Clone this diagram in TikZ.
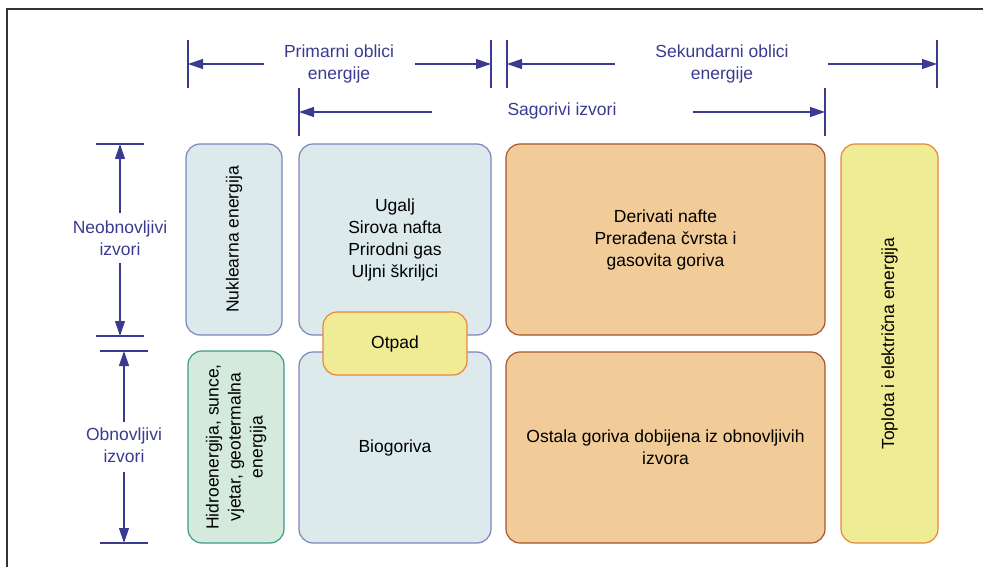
\documentclass[tikz,border=0pt]{standalone}
\usepackage{fontspec}
\setmainfont{Liberation Sans}
\usetikzlibrary{arrows.meta}
\definecolor{navy}{RGB}{58,58,145}
\definecolor{bfill}{RGB}{220,234,236}
\definecolor{bdraw}{RGB}{126,130,190}
\definecolor{gfill}{RGB}{212,234,220}
\definecolor{gdraw}{RGB}{58,155,134}
\definecolor{ofill}{RGB}{242,204,152}
\definecolor{odraw}{RGB}{168,85,47}
\definecolor{yfill}{RGB}{240,235,149}
\definecolor{ydraw}{RGB}{232,135,63}
\definecolor{frame}{RGB}{50,50,50}
\begin{document}
\begin{tikzpicture}[x=1pt,y=-1pt,
  box/.style={line width=1.2pt, rounded corners=14pt, inner sep=0pt, align=center,
    font=\fontsize{17.5}{22}\selectfont, text=black},
  bluebox/.style={box, fill=bfill, draw=bdraw},
  greenbox/.style={box, fill=gfill, draw=gdraw},
  orangebox/.style={box, fill=ofill, draw=odraw},
  yellowbox/.style={box, fill=yfill, draw=ydraw},
  lab/.style={text=navy, align=center, inner sep=0pt, font=\fontsize{17.5}{22}\selectfont},
  tick/.style={draw=navy, line width=1.2pt},
  dimarrow/.style={draw=navy, line width=1.2pt, -{Triangle[length=15pt,width=10pt]}}]
\useasboundingbox (0,0) rectangle (983,567);
% frame
\draw[frame, line width=1.2pt] (7,567) -- (7,9) -- (983,9);

% boxes
\node[bluebox, rotate=90, minimum width=191, minimum height=96] (nuk) at (234,239.5) {Nuklearna energija};
\node[greenbox, rotate=90, minimum width=192, minimum height=96] (hid) at (236,447)
  {Hidroenergija, sunce,\\vjetar, geotermalna\\energija};
\node[bluebox, minimum width=192, minimum height=191] (fos) at (395,239.5)
  {\fontsize{17.5}{19.5}\selectfont Ugalj\\Sirova nafta\\Prirodni gas\\Uljni škriljci};
\node[bluebox, minimum width=192, minimum height=191] (bio) at (395,447.5) {Biogoriva};
\node[yellowbox, minimum width=144, minimum height=63] (otp) at (395,343.5) {Otpad};
\node[orangebox, minimum width=319, minimum height=191] (der) at (665.5,239.5)
  {Derivati nafte\\Prerađena čvrsta i\\gasovita goriva};
\node[orangebox, minimum width=319, minimum height=191] (ost) at (665.5,447.5)
  {Ostala goriva dobijena iz obnovljivih\\izvora};
\node[yellowbox, rotate=90, minimum width=399, minimum height=97] (top) at (889.5,343.5)
  {Toplota i električna energija};

% top dimension labels
\node[lab] (prim) at (339,64) {Primarni oblici\\energije};
\node[lab] (sek) at (722,64) {Sekundarni oblici\\energije};
\node[lab] (sag) at (562,111) {Sagorivi izvori};

% top ticks
\coordinate (t1a) at (188,40); \coordinate (t1b) at (188,88);
\coordinate (t2a) at (491,40); \coordinate (t2b) at (491,88);
\coordinate (t3a) at (507,40); \coordinate (t3b) at (507,88);
\coordinate (t4a) at (937,40); \coordinate (t4b) at (937,88);
\coordinate (t5a) at (299,88); \coordinate (t5b) at (299,136);
\coordinate (t6a) at (825,88); \coordinate (t6b) at (825,136);
\foreach \t in {1,...,6} \draw[tick] (t\t a) -- (t\t b);

% top arrows
\coordinate (p1) at (264,64); \coordinate (p1e) at (188,64);
\coordinate (p2) at (415,64); \coordinate (p2e) at (491,64);
\coordinate (s1) at (615,64); \coordinate (s1e) at (507,64);
\coordinate (s2) at (828,64); \coordinate (s2e) at (937,64);
\coordinate (g1) at (432,112); \coordinate (g1e) at (299,112);
\coordinate (g2) at (693,112); \coordinate (g2e) at (825,112);
\draw[dimarrow] (p1) -- (p1e);
\draw[dimarrow] (p2) -- (p2e);
\draw[dimarrow] (s1) -- (s1e);
\draw[dimarrow] (s2) -- (s2e);
\draw[dimarrow] (g1) -- (g1e);
\draw[dimarrow] (g2) -- (g2e);

% left dimension labels
\node[lab] (neo) at (120,238.5) {Neobnovljivi\\izvori};
\node[lab] (obn) at (124,445.5) {Obnovljivi\\izvori};

% left ticks
\coordinate (l1a) at (96,144); \coordinate (l1b) at (144,144);
\coordinate (l2a) at (96,336); \coordinate (l2b) at (144,336);
\coordinate (l3a) at (100,351); \coordinate (l3b) at (148,351);
\coordinate (l4a) at (100,543); \coordinate (l4b) at (148,543);
\foreach \t in {1,...,4} \draw[tick] (l\t a) -- (l\t b);

% left arrows
\coordinate (n1) at (120,213); \coordinate (n1e) at (120,144);
\coordinate (n2) at (120,263); \coordinate (n2e) at (120,336);
\coordinate (o1) at (124,422); \coordinate (o1e) at (124,351);
\coordinate (o2) at (124,472); \coordinate (o2e) at (124,543);
\draw[dimarrow] (n1) -- (n1e);
\draw[dimarrow] (n2) -- (n2e);
\draw[dimarrow] (o1) -- (o1e);
\draw[dimarrow] (o2) -- (o2e);
\end{tikzpicture}
\end{document}
